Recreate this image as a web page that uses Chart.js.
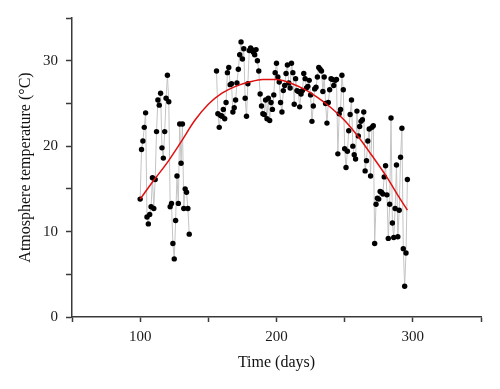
<!DOCTYPE html>
<html><head><meta charset="utf-8">
<script src="https://cdn.jsdelivr.net/npm/chart.js@4/dist/chart.umd.min.js"></script>
<style>html,body{margin:0;padding:0;background:#fff;}canvas{display:block;}</style>
</head><body>
<canvas id="c" width="500" height="389"></canvas>
<script>
// Observed atmosphere temperature, first period
const days1 = [100,101,102,103,104,105,106,107,108,109,110,111,112,113,114,115,116,117,118,119,120,121,122,123,124,125,126,127,128,129,130,131,132,133,134,135,136];
const temps1 = [13.8,19.6,20.6,22.2,23.9,11.7,10.9,12.0,12.9,16.3,12.7,16.1,21.7,25.4,24.8,26.2,19.8,18.6,21.7,25.6,28.3,25.2,12.9,13.3,8.6,6.8,11.3,16.5,13.3,22.6,18.0,22.6,12.7,15.0,14.6,12.7,9.7];
// Observed atmosphere temperature, second period
const days2 = [156,157,158,159,160,161,162,163,164,165,166,167,168,169,170,171,172,173,174,175,176,177,178,179,180,
181,182,183,184,185,186,187,188,189,190,191,192,193,194,195,196,197,198,199,200,
201,202,203,204,205,206,207,208,209,210,211,212,213,214,215,216,217,218,219,220,
221,222,223,224,225,226,227,228,229,230,231,232,233,234,235,236,237,238,239,240,
241,242,243,244,245,246,247,248,249,250,251,252,253,254,255,256,257,258,259,260,
261,262,263,264,265,266,267,268,269,270,271,272,273,274,275,276,277,278,279,280,
281,282,283,284,285,286,287,288,289,290,291,292,293,294,295,296];
const temps2 = [28.8,23.8,22.2,23.6,23.5,24.3,23.2,25.1,28.6,29.2,27.2,27.3,24.0,24.5,25.4,27.4,29.0,30.7,32.2,30.2,31.4,25.6,23.5,27.3,31.2,
31.5,31.3,31.0,30.7,31.3,30.0,28.8,26.1,24.7,23.8,23.7,25.4,23.2,25.6,23.0,25.1,24.3,26.0,28.6,29.7,
28.1,27.5,25.1,24.0,26.5,27.1,28.5,29.5,27.4,26.8,29.7,28.6,24.9,27.9,26.5,26.4,24.6,26.1,26.5,28.5,
27.9,26.8,27.0,27.7,26.0,22.9,24.7,26.7,26.9,28.1,29.2,29.0,28.8,26.4,28.1,25.0,22.7,25.1,26.6,27.9,
27.8,27.1,27.7,27.8,19.1,23.8,24.3,28.3,26.6,19.7,17.5,19.4,21.8,23.7,25.4,20.0,19.0,18.5,24.1,21.2,
22.3,22.9,23.1,24.0,17.1,18.3,20.6,22.0,16.5,22.2,22.4,8.6,13.2,13.9,13.8,14.7,14.6,14.4,16.4,17.7,
14.3,9.2,13.2,23.3,11.0,9.3,12.7,17.8,9.4,12.5,18.7,22.1,8.0,3.6,7.5,16.1];
// Fitted curve
const fitDays = [100,110,120,130,140,150,160,170,180,190,200,210,220,230,240,250,260,270,280,290,296];
const fitTemps = [13.8,16.0,18.1,20.5,23.0,24.9,26.2,27.0,27.5,27.8,27.8,27.4,26.7,25.7,24.5,23.0,21.1,18.9,16.6,14.0,12.5];
// Axis tick labels
const xTickLabels = [100,200,300];
const yTickLabels = [0,10,20,30];

const toPts = (xs, ys) => xs.map((x,i)=>({x:x, y:ys[i]}));
const serif = "'Liberation Serif', 'DejaVu Serif', serif";
const axisCol = '#3a3a3a';

const obsStyle = {
  type:'line', showLine:true, borderColor:'#c4c4c4', borderWidth:1,
  pointRadius:2.7, pointBackgroundColor:'#000', pointBorderWidth:0,
  tension:0, fill:false, order:1
};

new Chart(document.getElementById('c'), {
  type:'line',
  data:{
    datasets:[
      {data: toPts(fitDays, fitTemps), type:'line', borderColor:'#e01010', borderWidth:1.5,
       pointRadius:0, cubicInterpolationMode:'monotone', fill:false, order:0},
      Object.assign({data: toPts(days1, temps1)}, obsStyle),
      Object.assign({data: toPts(days2, temps2)}, obsStyle)
    ]
  },
  options:{
    responsive:false, animation:false, devicePixelRatio:1,
    layout:{padding:{left:0, right:19, top:18, bottom:0}},
    plugins:{legend:{display:false}, tooltip:{enabled:false}},
    scales:{
      x:{
        type:'linear', min:50, max:350,
        border:{display:true, color:axisCol, width:1.5},
        grid:{display:true, drawOnChartArea:false, drawTicks:true, tickLength:5, tickColor:axisCol, tickWidth:1.5},
        ticks:{stepSize:50, autoSkip:false, maxRotation:0, padding:6, color:'#1a1a1a',
          font:{family:serif, size:15},
          callback:(v)=> xTickLabels.includes(v) ? String(v) : ''},
        title:{display:true, text:'Time (days)', color:'#111', font:{family:serif, size:16}, padding:{top:0, bottom:17}},
        afterFit:(s)=>{ s.height = 72; }
      },
      y:{
        type:'linear', min:0, max:35,
        border:{display:true, color:axisCol, width:1.5},
        grid:{display:true, drawOnChartArea:false, drawTicks:true, tickLength:6, tickColor:axisCol, tickWidth:1.5},
        ticks:{stepSize:5, autoSkip:false, padding:8, color:'#1a1a1a',
          font:{family:serif, size:15},
          callback:(v)=> yTickLabels.includes(v) ? String(v) : ''},
        title:{display:true, text:'Atmosphere temperature (°C)', color:'#111', font:{family:serif, size:16}, padding:{top:16, bottom:0}},
        afterFit:(s)=>{ s.width = 72; }
      }
    }
  }
});
</script>
</body></html>
